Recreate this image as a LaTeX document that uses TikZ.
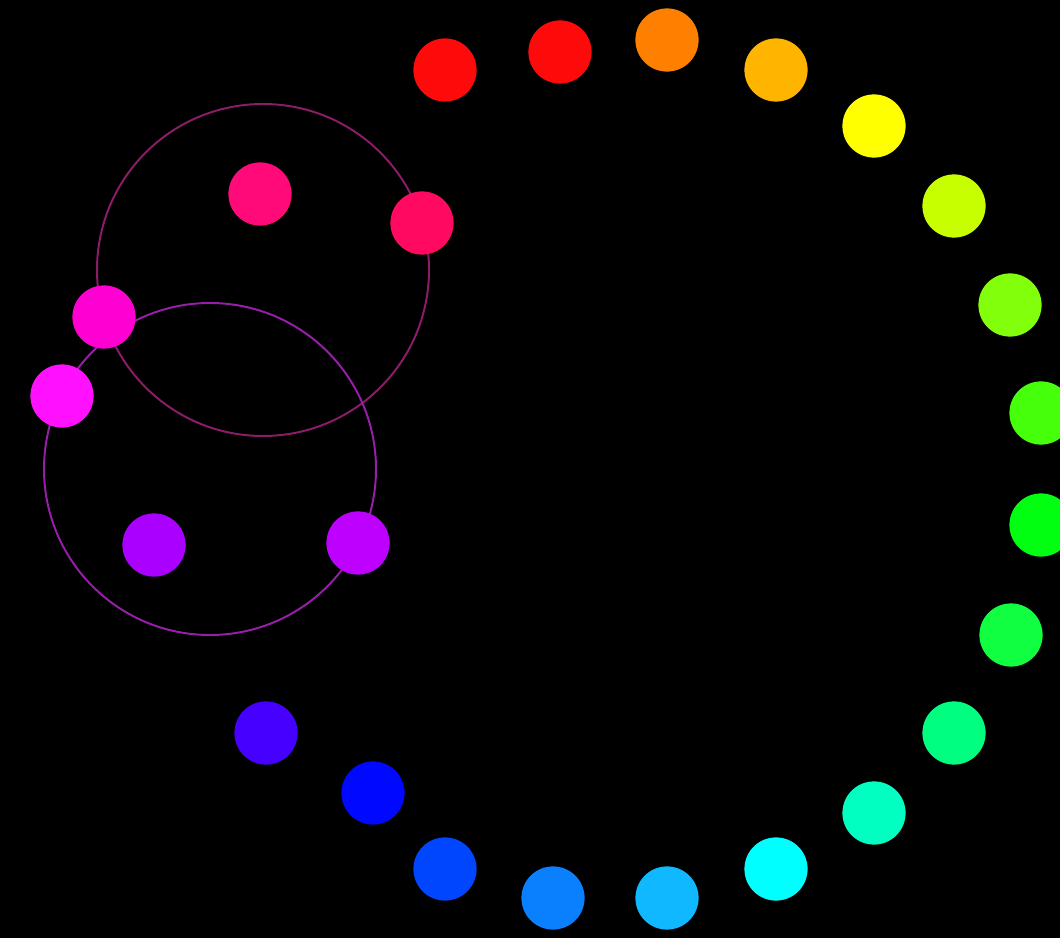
\documentclass[tikz,border=0pt]{standalone}
\begin{document}
\begin{tikzpicture}[x=0.025cm,y=-0.025cm,
  dot/.style={circle,inner sep=0pt,minimum size=1.58cm,draw=none},
  ringA/.style={draw={rgb,255:red,140;green,28;blue,104},line width=1.4pt},
  ringB/.style={draw={rgb,255:red,150;green,30;blue,168},line width=1.4pt}]
\fill[black] (0,0) rectangle (1060,938);
\useasboundingbox (0,0) rectangle (1060,938);
% helper circles
\coordinate (cA) at (263,270);
\coordinate (cB) at (210,469);
\draw[ringA] (cA) circle[radius=166];
\draw[ringB] (cB) circle[radius=166];
% dots
\node[dot,fill={rgb,255:red,255;green,10;blue,10}]   (d1)  at (445,70) {};
\node[dot,fill={rgb,255:red,255;green,10;blue,10}]   (d2)  at (560,52) {};
\node[dot,fill={rgb,255:red,255;green,128;blue,0}]   (d3)  at (667,40) {};
\node[dot,fill={rgb,255:red,255;green,180;blue,0}]   (d4)  at (776,70) {};
\node[dot,fill={rgb,255:red,255;green,255;blue,0}]   (d5)  at (874,126) {};
\node[dot,fill={rgb,255:red,200;green,255;blue,0}]   (d6)  at (954,206) {};
\node[dot,fill={rgb,255:red,130;green,255;blue,10}]  (d7)  at (1010,305) {};
\node[dot,fill={rgb,255:red,70;green,255;blue,10}]   (d8)  at (1041,413) {};
\node[dot,fill={rgb,255:red,0;green,255;blue,16}]    (d9)  at (1041,525) {};
\node[dot,fill={rgb,255:red,16;green,255;blue,64}]   (d10) at (1011,635) {};
\node[dot,fill={rgb,255:red,0;green,255;blue,128}]   (d11) at (954,733) {};
\node[dot,fill={rgb,255:red,0;green,255;blue,192}]   (d12) at (874,813) {};
\node[dot,fill={rgb,255:red,0;green,255;blue,255}]   (d13) at (776,869) {};
\node[dot,fill={rgb,255:red,16;green,184;blue,255}]  (d14) at (667,898) {};
\node[dot,fill={rgb,255:red,10;green,128;blue,255}]  (d15) at (553,898) {};
\node[dot,fill={rgb,255:red,0;green,70;blue,255}]    (d16) at (445,869) {};
\node[dot,fill={rgb,255:red,0;green,8;blue,255}]     (d17) at (373,793) {};
\node[dot,fill={rgb,255:red,70;green,0;blue,255}]    (d18) at (266,733) {};
\node[dot,fill={rgb,255:red,170;green,0;blue,255}]   (d19) at (154,545) {};
\node[dot,fill={rgb,255:red,190;green,0;blue,255}]   (d20) at (358,543) {};
\node[dot,fill={rgb,255:red,255;green,16;blue,255}]  (d21) at (62,396) {};
\node[dot,fill={rgb,255:red,255;green,0;blue,210}]   (d22) at (104,317) {};
\node[dot,fill={rgb,255:red,255;green,10;blue,120}]  (d23) at (260,194) {};
\node[dot,fill={rgb,255:red,255;green,10;blue,96}]   (d24) at (422,223) {};
\end{tikzpicture}
\end{document}
